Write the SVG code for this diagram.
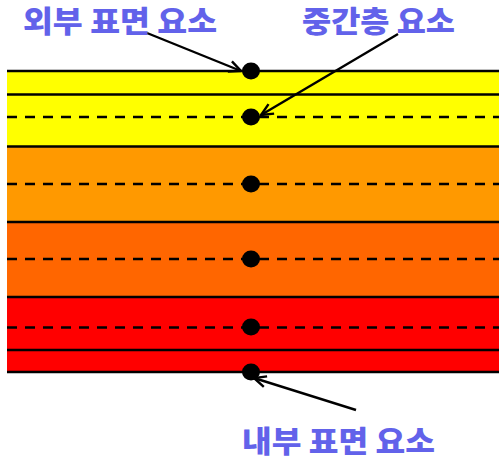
<svg xmlns="http://www.w3.org/2000/svg" width="499" height="460" viewBox="0 0 499 460">
<style>
.lbl{font-family:"Noto Sans CJK KR","Noto Sans",sans-serif;font-weight:900;font-size:30px;fill:#6262EA}
.solid{stroke:#000;stroke-width:2.3;fill:none}
.dash{stroke:#000;stroke-width:2.3;stroke-dasharray:10 8;fill:none}
.dot{fill:#000}
.arr{stroke:#000;stroke-width:2.4;fill:none;marker-end:url(#ah)}
</style>
<defs>
<marker id="ah" viewBox="0 0 14 14" refX="13" refY="7" markerWidth="14" markerHeight="14" markerUnits="userSpaceOnUse" orient="auto">
<path d="M1,1.5 L13,7 L1,12.5" fill="none" stroke="#000" stroke-width="2.4"/>
</marker>
</defs>
<rect width="499" height="460" fill="#fff"/>
<g id="layers">
<rect x="7" y="71" width="492" height="75" fill="#FFFF00"/>
<rect x="7" y="146" width="492" height="76" fill="#FF9900"/>
<rect x="7" y="222" width="492" height="75" fill="#FF6600"/>
<rect x="7" y="297" width="492" height="75" fill="#FF0000"/>
<line class="solid" x1="7" y1="71" x2="499" y2="71"/>
<line class="solid" x1="7" y1="94.5" x2="499" y2="94.5"/>
<line class="dash" x1="7" y1="117" x2="499" y2="117"/>
<line class="solid" x1="7" y1="146.5" x2="499" y2="146.5"/>
<line class="dash" x1="7" y1="184" x2="499" y2="184"/>
<line class="solid" x1="7" y1="222" x2="499" y2="222"/>
<line class="dash" x1="7" y1="259" x2="499" y2="259"/>
<line class="solid" x1="7" y1="297" x2="499" y2="297"/>
<line class="dash" x1="7" y1="327.5" x2="499" y2="327.5"/>
<line class="solid" x1="7" y1="350" x2="499" y2="350"/>
<line class="solid" x1="7" y1="372" x2="499" y2="372"/>
</g>
<g id="dots">
<ellipse class="dot" cx="251" cy="71" rx="9" ry="8.5"/>
<ellipse class="dot" cx="251" cy="117" rx="9" ry="8.5"/>
<ellipse class="dot" cx="251" cy="184" rx="9" ry="8.5"/>
<ellipse class="dot" cx="251" cy="259" rx="9" ry="8.5"/>
<ellipse class="dot" cx="251" cy="327" rx="9" ry="8.5"/>
<ellipse class="dot" cx="251" cy="372" rx="9" ry="8.5"/>
</g>
<g id="connectors">
<line class="arr" x1="147" y1="33" x2="241" y2="71"/>
<line class="arr" x1="398" y1="34" x2="261" y2="115"/>
<line class="arr" x1="356" y1="410" x2="254" y2="378"/>
</g>
<g id="outer-label"><text class="lbl" x="23" y="32" textLength="194" lengthAdjust="spacingAndGlyphs">외부 표면 요소</text></g>
<g id="middle-label"><text class="lbl" x="302" y="32" textLength="153" lengthAdjust="spacingAndGlyphs">중간층 요소</text></g>
<g id="inner-label"><text class="lbl" x="242" y="452" textLength="193" lengthAdjust="spacingAndGlyphs">내부 표면 요소</text></g>
</svg>
